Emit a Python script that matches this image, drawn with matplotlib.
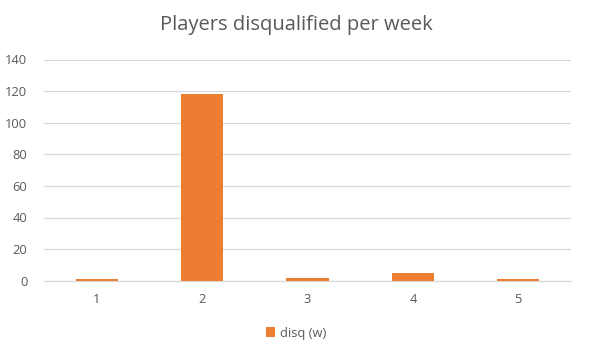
import matplotlib
matplotlib.use("Agg")
import matplotlib.pyplot as plt

categories = ["1", "2", "3", "4", "5"]
values = [1, 118, 2, 5, 1]
series_name = "disq (w)"
title = "Players disqualified per week"
yticks = [0, 20, 40, 60, 80, 100, 120, 140]

plt.rcParams['font.family'] = ['Open Sans', 'DejaVu Sans']
txt = "#595959"

fig = plt.figure(figsize=(5.92, 3.53), dpi=100)
ax = fig.add_axes([44/592, 1-280.7/353, (571-44)/592, (280.7-59.5)/353])
x = list(range(len(categories)))
bars = ax.bar(x, values, width=0.4, color="#ED7D31", label=series_name, zorder=3)
ax.set_xlim(-0.5, len(categories)-0.5)
ax.set_ylim(0, 140)
ax.set_yticks(yticks)
ax.set_yticklabels([str(v) for v in yticks])
ax.set_xticks(x)
ax.set_xticklabels(categories)
ax.grid(axis='y', color="#D9D9D9", linewidth=0.9, zorder=0)
for s in ['top', 'right', 'left']:
    ax.spines[s].set_visible(False)
ax.spines['bottom'].set_color("#D9D9D9")
ax.spines['bottom'].set_linewidth(0.9)
ax.tick_params(axis='both', length=0, colors=txt, labelsize=9.3)
ax.tick_params(axis='y', pad=12)
ax.tick_params(axis='x', pad=9)
fig.text(0.5, 1-25/353, title, ha='center', va='center', fontsize=14.5, color=txt)
leg = fig.legend(handles=[bars], labels=[series_name], loc='center', bbox_to_anchor=(0.5, 1-333/353),
                 frameon=False, fontsize=9.3, handlelength=0.7, handleheight=0.7, handletextpad=0.4)
for t in leg.get_texts():
    t.set_color(txt)
fig.savefig("out.png", dpi=100, facecolor="white")
